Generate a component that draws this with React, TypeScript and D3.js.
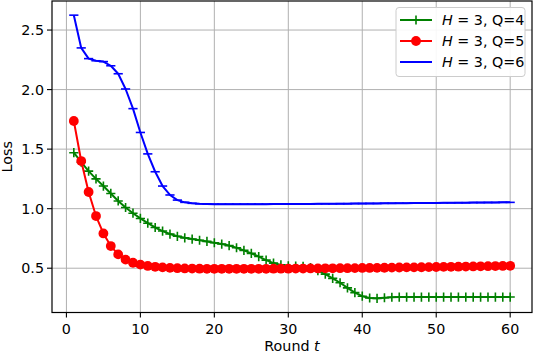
import React, { useEffect, useRef } from 'react';
import * as d3 from 'd3';

// Loss per round
const lossQ4 = [
  1.47, 1.39, 1.315, 1.25, 1.19, 1.128, 1.065, 1.01, 0.962, 0.918,
  0.878, 0.842, 0.812, 0.787, 0.768, 0.755, 0.745, 0.735, 0.725, 0.714,
  0.703, 0.69, 0.672, 0.65, 0.625, 0.598, 0.568, 0.543, 0.528, 0.52,
  0.517, 0.515, 0.505, 0.48, 0.45, 0.415, 0.378, 0.335, 0.295, 0.265,
  0.25, 0.247, 0.252, 0.256, 0.258, 0.258, 0.258, 0.258, 0.258, 0.258,
  0.258, 0.258, 0.258, 0.258, 0.258, 0.258, 0.258, 0.258, 0.258, 0.258,
];
const lossQ5 = [
  1.736, 1.4, 1.14, 0.938, 0.792, 0.686, 0.616, 0.572, 0.546, 0.53,
  0.519, 0.512, 0.507, 0.503, 0.5, 0.498, 0.497, 0.496, 0.495, 0.495,
  0.495, 0.495, 0.495, 0.495, 0.495, 0.495, 0.495, 0.496, 0.496, 0.496,
  0.497, 0.497, 0.498, 0.498, 0.499, 0.499, 0.5, 0.5, 0.501, 0.502,
  0.502, 0.503, 0.504, 0.505, 0.506, 0.507, 0.507, 0.508, 0.509, 0.51,
  0.511, 0.512, 0.513, 0.514, 0.515, 0.516, 0.517, 0.518, 0.519, 0.52,
];
const lossQ6 = [
  2.625, 2.35, 2.26, 2.242, 2.235, 2.2, 2.133, 2.005, 1.84, 1.64,
  1.46, 1.31, 1.19, 1.115, 1.072, 1.053, 1.045, 1.041, 1.039, 1.038,
  1.038, 1.038, 1.038, 1.038, 1.038, 1.038, 1.038, 1.039, 1.039, 1.039,
  1.04, 1.04, 1.04, 1.041, 1.041, 1.041, 1.042, 1.042, 1.043, 1.043,
  1.044, 1.044, 1.045, 1.045, 1.046, 1.046, 1.047, 1.047, 1.048, 1.048,
  1.049, 1.049, 1.05, 1.05, 1.051, 1.051, 1.052, 1.052, 1.053, 1.053,
];
const seriesLabels = ['4', '5', '6'];
const xTicks = [0, 10, 20, 30, 40, 50, 60];
const yTicks = [0.5, 1.0, 1.5, 2.0, 2.5];

const App = () => {
  const ref = useRef<SVGSVGElement>(null);

  useEffect(() => {
    const width = 533;
    const height = 353;
    const left = 52, right = 532, top = 1, bottom = 312.5;
    const font = 'DejaVu Sans';
    const fs = 14.3;

    const svg = d3.select(ref.current);
    svg.selectAll('*').remove();

    const series = [
      { values: lossQ4, color: '#008000', marker: 'plus' },
      { values: lossQ5, color: '#ff0000', marker: 'circle' },
      { values: lossQ6, color: '#0000ff', marker: 'hline' },
    ].map((s, i) => ({ ...s, label: seriesLabels[i], points: s.values.map((v, j) => ({ x: j + 1, y: v })) }));

    const allX = series.flatMap(s => s.points.map(p => p.x));
    const allY = series.flatMap(s => s.values);
    const [x0, x1] = d3.extent(allX) as [number, number];
    const [y0, y1] = d3.extent(allY) as [number, number];
    const mx = (x1 - x0) * 0.05;
    const my = (y1 - y0) * 0.05;

    const x = d3.scaleLinear().domain([x0 - mx, x1 + mx]).range([left, right]);
    const y = d3.scaleLinear().domain([y0 - my, y1 + my]).range([bottom, top]);

    svg.append('rect').attr('width', width).attr('height', height).attr('fill', 'white');

    // grid
    const grid = svg.append('g').attr('stroke', '#b0b0b0').attr('stroke-width', 1);
    xTicks.forEach(t => {
      grid.append('line').attr('x1', x(t)).attr('x2', x(t)).attr('y1', top).attr('y2', bottom);
    });
    yTicks.forEach(t => {
      grid.append('line').attr('x1', left).attr('x2', right).attr('y1', y(t)).attr('y2', y(t));
    });

    // lines + markers
    const line = d3.line<{ x: number; y: number }>().x(d => x(d.x)).y(d => y(d.y));
    const plot = svg.append('g');
    const drawMarker = (g: any, kind: string, color: string, cx: number, cy: number) => {
      const r = 4.6;
      if (kind === 'circle') {
        g.append('circle').attr('cx', cx).attr('cy', cy).attr('r', r + 0.3).attr('fill', color);
      } else if (kind === 'plus') {
        g.append('path')
          .attr('d', `M${cx - r},${cy}H${cx + r}M${cx},${cy - r}V${cy + r}`)
          .attr('stroke', color).attr('stroke-width', 1.6);
      } else if (kind === 'hline') {
        g.append('path').attr('d', `M${cx - r},${cy}H${cx + r}`)
          .attr('stroke', color).attr('stroke-width', 1.6);
      }
    };

    series.forEach(s => {
      const g = plot.append('g');
      g.append('path')
        .attr('d', line(s.points))
        .attr('fill', 'none')
        .attr('stroke', s.color)
        .attr('stroke-width', 2)
        .attr('stroke-linejoin', 'round');
      s.points.forEach(p => drawMarker(g, s.marker, s.color, x(p.x), y(p.y)));
    });

    // frame
    svg.append('rect')
      .attr('x', left).attr('y', top).attr('width', right - left).attr('height', bottom - top)
      .attr('fill', 'none').attr('stroke', 'black').attr('stroke-width', 1.2);

    // x axis
    const xAxis = svg.append('g').attr('font-family', font).attr('font-size', fs);
    xTicks.forEach(t => {
      xAxis.append('line').attr('x1', x(t)).attr('x2', x(t)).attr('y1', bottom).attr('y2', bottom + 5)
        .attr('stroke', 'black').attr('stroke-width', 1.1);
      xAxis.append('text').attr('x', x(t)).attr('y', bottom + 21.5)
        .attr('text-anchor', 'middle').text(t);
    });
    const xl = svg.append('text').attr('x', (left + right) / 2).attr('y', 351)
      .attr('text-anchor', 'middle').attr('font-family', font).attr('font-size', fs);
    xl.append('tspan').text('Round ');
    xl.append('tspan').attr('font-style', 'italic').text('t');

    // y axis
    const yAxis = svg.append('g').attr('font-family', font).attr('font-size', fs);
    yTicks.forEach(t => {
      yAxis.append('line').attr('x1', left - 5).attr('x2', left).attr('y1', y(t)).attr('y2', y(t))
        .attr('stroke', 'black').attr('stroke-width', 1.1);
      yAxis.append('text').attr('x', left - 8).attr('y', y(t)).attr('dy', '0.36em')
        .attr('text-anchor', 'end').text(d3.format('.1f')(t));
    });
    svg.append('text')
      .attr('transform', `translate(11.5, ${(top + bottom) / 2}) rotate(-90)`)
      .attr('text-anchor', 'middle').attr('font-family', font).attr('font-size', fs)
      .text('Loss');

    // legend
    const lg = svg.append('g').attr('transform', 'translate(396, 7.5)');
    lg.append('rect').attr('width', 129).attr('height', 69).attr('rx', 3)
      .attr('fill', 'white').attr('fill-opacity', 0.9)
      .attr('stroke', '#cccccc').attr('stroke-width', 1);
    series.forEach((s, i) => {
      const cy = 12.5 + i * 21;
      lg.append('line').attr('x1', 4).attr('x2', 36).attr('y1', cy).attr('y2', cy)
        .attr('stroke', s.color).attr('stroke-width', 2);
      drawMarker(lg, s.marker, s.color, 20, cy);
      const t = lg.append('text').attr('x', 46).attr('y', cy).attr('dy', '0.36em')
        .attr('font-family', font).attr('font-size', fs);
      t.append('tspan').attr('font-style', 'italic').text('H');
      t.append('tspan').text(' = 3, Q=' + s.label);
    });
  }, []);

  return (
    <svg ref={ref} width={533} height={353} style={{ position: 'absolute', left: 0, top: 0 }} />
  );
};

export default App;
